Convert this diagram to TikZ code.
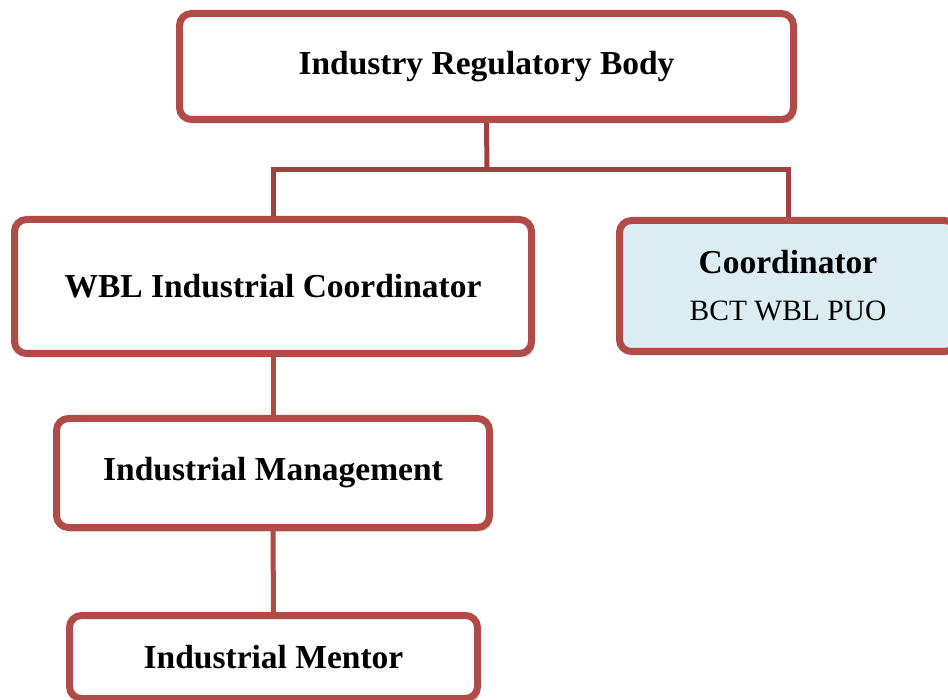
\documentclass[tikz,border=0pt]{standalone}
\usepackage{fontspec}
\setmainfont{Liberation Serif}
\usetikzlibrary{shadows}
\definecolor{boxred}{HTML}{B14B48}
\definecolor{linkred}{HTML}{A04140}
\definecolor{coordfill}{HTML}{DBEDF3}
\tikzset{
  orgbox/.style={draw=boxred, line width=7pt, rounded corners=12pt, fill=white,
    inner sep=0pt, align=center,
    font=\fontsize{33.5}{38}\selectfont\bfseries,
    drop shadow={shadow xshift=3pt, shadow yshift=-4pt, fill=black, opacity=0.18}},
  link/.style={draw=linkred, line width=5pt, line join=miter},
  linkb/.style={draw=boxred, line width=5pt}
}
\begin{document}
\begin{tikzpicture}[x=1pt,y=-1pt]
\useasboundingbox (0,0) rectangle (948,700);
\node[orgbox, minimum width=614pt, minimum height=106pt] (top) at (486.5,66.5) {Industry Regulatory Body};
\node[orgbox, minimum width=517pt, minimum height=134pt] (wbl) at (273,286.5) {WBL Industrial Coordinator};
\node[orgbox, fill=coordfill, minimum width=337pt, minimum height=131pt] (coord) at (788,286) {Coordinator\\[9pt]{\fontsize{29.5}{38}\selectfont\mdseries BCT WBL PUO}};
\node[orgbox, minimum width=433pt, minimum height=109pt] (mgmt) at (273,473) {Industrial Management};
\node[orgbox, minimum width=408pt, minimum height=83pt] (mentor) at (273.5,657) {Industrial Mentor};
\coordinate (j) at (487,170);
\draw[link] (top.south) -- (j);
\draw[link] (wbl.north) |- (j) -| (coord.north);
\draw[linkb] (wbl.south) -- (mgmt.north);
\draw[linkb] (mgmt.south) -- (mentor.north);
\end{tikzpicture}
\end{document}
